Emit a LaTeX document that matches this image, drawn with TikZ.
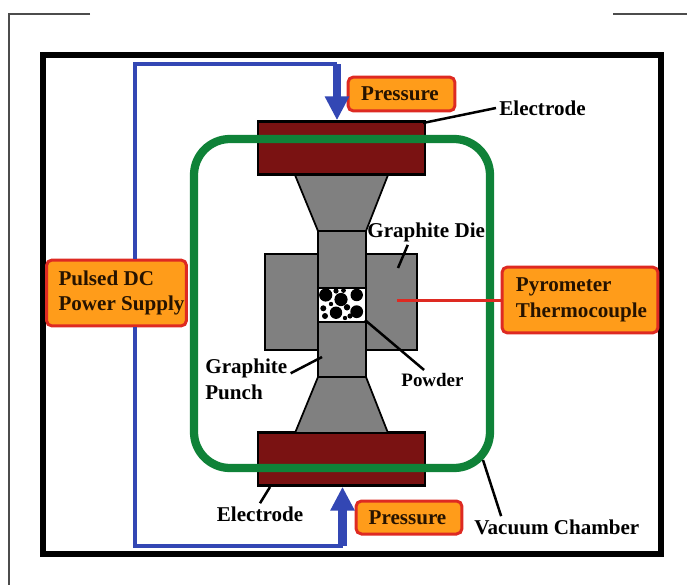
\documentclass[tikz,border=0pt]{standalone}
\usepackage{fontspec}
\setmainfont{Liberation Serif}
\usetikzlibrary{arrows.meta}
\definecolor{boxOrange}{HTML}{FF9C1A}
\definecolor{boxRed}{HTML}{DE2A22}
\definecolor{wireBlue}{HTML}{3347B4}
\definecolor{chamberGreen}{HTML}{0F8238}
\definecolor{electrodeRed}{HTML}{7A1212}
\definecolor{graphiteGray}{HTML}{808080}
\tikzset{
  crop line/.style={line width=0.025cm,black!70},
  frame line/.style={line width=0.12cm,black},
  wire line/.style={line width=0.07cm,wireBlue},
  press arrow/.style={line width=0.17cm,wireBlue,-{Triangle[width=0.46cm,length=0.48cm]}},
  electrode block/.style={draw=black,line width=0.05cm,fill=electrodeRed,inner sep=0pt,minimum width=3.34cm,minimum height=1.06cm},
  graphite block/.style={draw=black,line width=0.035cm,fill=graphiteGray},
  chamber line/.style={line width=0.165cm,chamberGreen,rounded corners=0.72cm},
  probe line/.style={line width=0.06cm,boxRed},
  leader line/.style={line width=0.05cm,black},
  label box/.style={draw=boxRed,line width=0.06cm,fill=boxOrange,rounded corners=0.11cm,inner sep=0pt,align=left,text=black!85!orange,font=\bfseries\fontsize{12}{14.7}\selectfont},
  part label/.style={inner sep=0.06cm,align=left,font=\bfseries\fontsize{12}{14.7}\selectfont},
}
\newcommand{\drawPowderGrains}{
\foreach \gx/\gy/\gr in {325.7/295/6.6,341/299.5/6.6,356.7/295/6.2,336/312.7/6.2,356.7/311.7/6.4,323.3/308.3/3,325/316/3,336/291/2.6,347/307.3/3.2,350/316/2.6,343.5/290.5/2.4,331/304/2.2,345/318/2.2}
  \fill[black] (\gx,\gy) circle ({\gr*0.02cm});
}
\begin{document}
\begin{tikzpicture}[x=0.02cm,y=-0.02cm]
\useasboundingbox (0,0) rectangle (687,585);
\draw[crop line] (90,14) -- (9,14) -- (9,585);
\draw[crop line] (613,14) -- (687,14);
\draw[frame line] (43,55) rectangle (661,554);
\node[electrode block] (electrodeTop) at (341.5,148) {};
\node[electrode block] (electrodeBottom) at (341.5,459) {};
\draw[graphite block] (295,175) -- (388,175) -- (366,231) -- (318,231) -- cycle;
\draw[graphite block] (318,377) -- (366,377) -- (388,433) -- (295,433) -- cycle;
\draw[graphite block] (265,254) rectangle (318,350);
\draw[graphite block] (366,254) rectangle (417,350);
\draw[graphite block] (318,231) rectangle (366,288);
\draw[graphite block] (318,322) rectangle (366,377);
\draw[black,line width=0.03cm,fill=white] (318,288) rectangle (366,322);
\drawPowderGrains
\draw[chamber line] (194,139) rectangle (490,468);
\node[label box,minimum width=2.8cm,minimum height=1.32cm] (powerBox) at (116.5,293) {\hspace*{0.2cm}Pulsed DC\\\hspace*{0.2cm}Power Supply};
\node[label box,minimum width=2.14cm,minimum height=0.68cm] (pressureTop) at (401.5,94) {Pressure\hspace*{0.06cm}};
\node[label box,minimum width=2.12cm,minimum height=0.66cm] (pressureBottom) at (409,517.5) {Pressure\hspace*{0.06cm}};
\node[label box,minimum width=3.12cm,minimum height=1.32cm] (pyrometerBox) at (580,300) {\hspace*{0.06cm}Pyrometer\\\hspace*{0.06cm}Thermocouple};
\coordinate (wireTopLeft) at (135,64);
\coordinate (wireTopRight) at (337,64);
\coordinate (wireBottomLeft) at (135,546);
\coordinate (wireBottomRight) at (342.5,546);
\draw[wire line] (powerBox.north -| wireTopLeft) -- (wireTopLeft) -- (wireTopRight);
\draw[wire line] (powerBox.south -| wireBottomLeft) -- (wireBottomLeft) -- (wireBottomRight);
\draw[press arrow] (wireTopRight) -- (wireTopRight |- electrodeTop.north);
\draw[press arrow] (wireBottomRight) -- (wireBottomRight |- electrodeBottom.south);
\coordinate (probeEnd) at (397,300);
\draw[probe line] (pyrometerBox.west) -- (probeEnd);
\node[part label,anchor=west] (electrodeTopLabel) at (496,108) {Electrode};
\node[part label,anchor=west] (dieLabel) at (364,232) {Graphite Die};
\node[part label,anchor=west] (punchLabel) at (202,379.5) {Graphite\\Punch};
\node[part label,font=\bfseries\fontsize{10.8}{13}\selectfont] (powderLabel) at (432.5,380) {Powder};
\node[part label] (electrodeBottomLabel) at (260,514) {Electrode};
\node[part label,anchor=west] (vacuumLabel) at (471,527) {Vacuum Chamber};
\coordinate (electrodeTopEnd) at (423,123);
\coordinate (dieEnd) at (398,268);
\coordinate (punchEnd) at (322,357);
\coordinate (powderEnd) at (365,320);
\coordinate (electrodeBottomEnd) at (270,487);
\coordinate (vacuumEnd) at (483,460);
\draw[leader line] (electrodeTopLabel.west) -- (electrodeTopEnd);
\draw[leader line] (dieLabel.-145) -- (dieEnd);
\draw[leader line] (punchLabel.8) -- (punchEnd);
\draw[leader line] (powderLabel.130) -- (powderEnd);
\draw[leader line] (electrodeBottomLabel.north) -- (electrodeBottomEnd);
\draw[leader line] (vacuumLabel.169) -- (vacuumEnd);
\end{tikzpicture}
\end{document}
